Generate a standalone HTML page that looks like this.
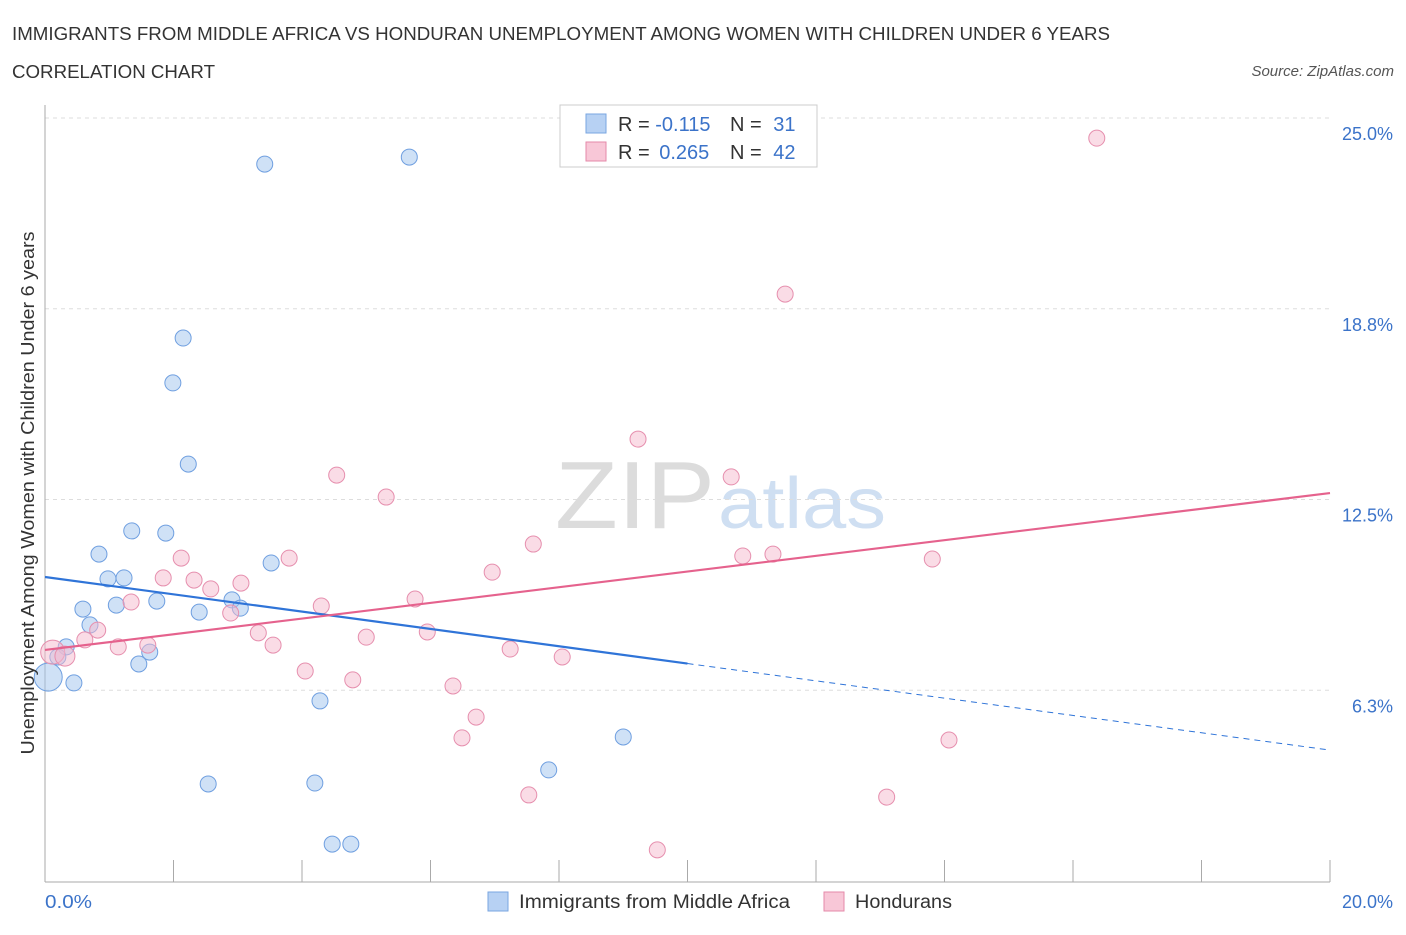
<!DOCTYPE html>
<html><head><meta charset="utf-8"><style>
body{margin:0;background:#fff;font-family:"Liberation Sans",sans-serif;}
svg text{font-family:"Liberation Sans",sans-serif;}
</style></head><body>
<svg id="chart" width="1406" height="930">
<text x="12" y="40" font-size="18" fill="#333" textLength="1098" lengthAdjust="spacingAndGlyphs">IMMIGRANTS FROM MIDDLE AFRICA VS HONDURAN UNEMPLOYMENT AMONG WOMEN WITH CHILDREN UNDER 6 YEARS</text>
<text x="12" y="78" font-size="18" fill="#333" textLength="203" lengthAdjust="spacingAndGlyphs">CORRELATION CHART</text>
<text x="1394" y="76" font-size="15" fill="#555" font-style="italic" text-anchor="end">Source: ZipAtlas.com</text>
<text x="555" y="528" font-size="96" fill="#dcdcdc" textLength="160" lengthAdjust="spacingAndGlyphs" font-family="Liberation Serif">ZIP</text>
<text x="718" y="528" font-size="72" fill="#cfdff2" textLength="168" lengthAdjust="spacingAndGlyphs">atlas</text>
<g id="grid"></g>
<g id="axes"></g>
<g id="points"></g>
<g id="trends"></g>
<text transform="translate(34,493) rotate(-90)" font-size="18" fill="#333" text-anchor="middle" textLength="523" lengthAdjust="spacingAndGlyphs">Unemployment Among Women with Children Under 6 years</text>
<text x="45" y="908" font-size="18" fill="#3b73c9" textLength="47" lengthAdjust="spacingAndGlyphs">0.0%</text>
<text x="1393" y="908" font-size="18" fill="#3b73c9" text-anchor="end">20.0%</text>
<g>
<rect x="560" y="105" width="257" height="62" fill="#fff" stroke="#ccc"/>
<rect x="586" y="114" width="20" height="19" fill="#b7d1f3" stroke="#7aa6e0"/>
<rect x="586" y="142" width="20" height="19" fill="#f8c7d7" stroke="#e48aaa"/>
<text x="618" y="131" font-size="20" fill="#333">R = <tspan fill="#3b73c9">-0.115</tspan></text>
<text x="730" y="131" font-size="20" fill="#333">N = <tspan fill="#3b73c9" dx="6">31</tspan></text>
<text x="618" y="159" font-size="20" fill="#333">R = <tspan fill="#3b73c9" dx="4">0.265</tspan></text>
<text x="730" y="159" font-size="20" fill="#333">N = <tspan fill="#3b73c9" dx="6">42</tspan></text>
</g>
<g>
<rect x="488" y="892" width="20" height="19" fill="#b7d1f3" stroke="#7aa6e0"/>
<text x="519" y="908" font-size="19" fill="#333" textLength="271" lengthAdjust="spacingAndGlyphs">Immigrants from Middle Africa</text>
<rect x="824" y="892" width="20" height="19" fill="#f8c7d7" stroke="#e48aaa"/>
<text x="855" y="908" font-size="19" fill="#333" textLength="97" lengthAdjust="spacingAndGlyphs">Hondurans</text>
</g>
</svg>
<script>
const yTicks=[6.25,12.5,18.75,25];
const yTickLabels=["6.3%","12.5%","18.8%","25.0%"];
const xTicks=[0,2,4,6,8,10,12,14,16,18,20];
const blueX=[3.42,5.67,2.15,1.99,2.23,1.35,1.88,0.84,0.98,1.23,3.52,0.59,1.11,1.74,2.40,2.91,3.04,0.70,0.33,0.20,1.63,1.46,0.45,0.05,4.28,9.00,7.84,2.54,4.20,4.47,4.76];
const blueY=[23.49,23.72,17.79,16.32,13.66,11.47,11.40,10.71,9.90,9.93,10.42,8.91,9.04,9.17,8.81,9.21,8.94,8.39,7.67,7.34,7.50,7.11,6.49,6.68,5.90,4.72,3.64,3.18,3.21,1.21,1.21];
const pinkX=[16.37,11.52,9.23,4.54,10.68,5.31,7.60,2.12,3.80,10.86,11.33,13.81,6.96,1.84,2.32,3.05,2.58,1.34,5.76,4.30,2.89,0.82,3.32,5.00,5.95,0.62,1.60,1.14,3.55,7.24,8.05,4.05,4.79,6.35,6.71,6.49,14.07,7.53,13.10,9.53,0.12,0.31];
const pinkY=[24.34,19.23,14.48,13.30,13.24,12.58,11.04,10.58,10.58,10.65,10.71,10.55,10.12,9.93,9.86,9.76,9.57,9.14,9.24,9.01,8.78,8.22,8.13,7.99,8.16,7.90,7.73,7.67,7.73,7.60,7.34,6.88,6.59,6.39,5.37,4.69,4.62,2.82,2.75,1.02,7.50,7.37];
const blueTrend=[9.96,4.29];
const pinkTrend=[7.57,12.71];
const NS="http://www.w3.org/2000/svg";
const X=v=>45+v*64.25, Y=v=>881-v*30.52;
function mk(tag,attrs,parent){const e=document.createElementNS(NS,tag);for(const k in attrs)e.setAttribute(k,attrs[k]);document.getElementById(parent).appendChild(e);return e;}
yTicks.forEach((t,i)=>{
 const l=mk('line',{x1:45,x2:1330,y1:Y(t),y2:Y(t),stroke:'#ddd','stroke-dasharray':'4,4'},'grid');
 
 
 const tx=mk('text',{x:1393,y:Y(t)+22,'font-size':18,fill:'#3b73c9','text-anchor':'end'},'grid');
 tx.textContent=yTickLabels[i];
 
 
});
const ax=mk('line',{x1:45,x2:1330,y1:882,y2:882,stroke:'#aaa'},'axes');


const ay=mk('line',{x1:45,x2:45,y1:105,y2:882,stroke:'#aaa'},'axes');


xTicks.forEach(t=>{const l=mk('line',{x1:X(t),x2:X(t),y1:882,y2:860,stroke:'#aaa'},'axes');
 
 });
blueX.forEach((v,i)=>{const r=(i===23)?14:8;
 const c=mk('circle',{cx:X(v),cy:Y(blueY[i]),r:r,fill:'rgba(160,195,238,0.5)',stroke:'#6f9fe0','stroke-width':1},'points');
 
 });
pinkX.forEach((v,i)=>{const r=(i===40)?12:(i===41?10:8);
 const c=mk('circle',{cx:X(v),cy:Y(pinkY[i]),r:r,fill:'rgba(246,185,205,0.5)',stroke:'#e68fae','stroke-width':1},'points');
 
 });
const bAt=x=>blueTrend[0]+(blueTrend[1]-blueTrend[0])*x/20;
const b1=mk('line',{x1:X(0),y1:Y(bAt(0)),x2:X(10),y2:Y(bAt(10)),stroke:'#2f74d8','stroke-width':2.2},'trends');


const b2=mk('line',{x1:X(10),y1:Y(bAt(10)),x2:X(20),y2:Y(bAt(20)),stroke:'#2f74d8','stroke-width':1,'stroke-dasharray':'6,5'},'trends');


const p1=mk('line',{x1:X(0),y1:Y(pinkTrend[0]),x2:X(20),y2:Y(pinkTrend[1]),stroke:'#e5628d','stroke-width':2.2},'trends');


</script>
</body></html>
